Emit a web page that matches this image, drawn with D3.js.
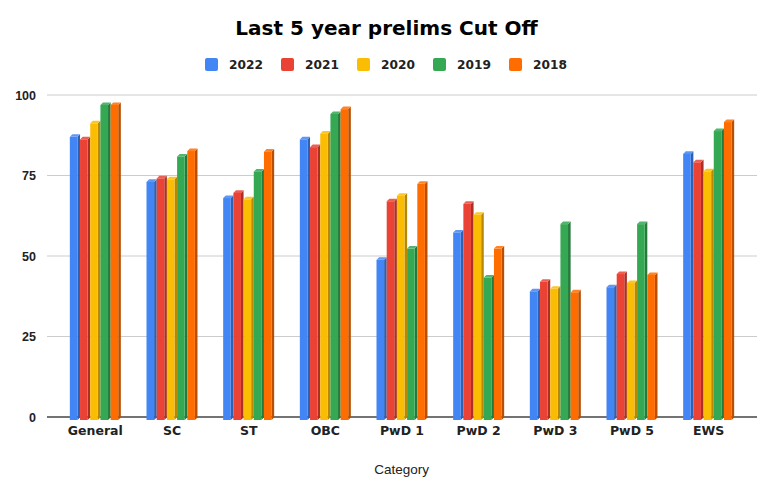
<!DOCTYPE html>
<html>
<head>
<meta charset="utf-8">
<script src="https://cdn.jsdelivr.net/npm/d3@7"></script>
<style>
  html, body { margin: 0; padding: 0; background: #fff; }
  svg { display: block; }
</style>
</head>
<body>
<svg id="chart" width="777" height="487"></svg>
<script>
const categories = ["General", "SC", "ST", "OBC", "PwD 1", "PwD 2", "PwD 3", "PwD 5", "EWS"];
const seriesNames = ["2022", "2021", "2020", "2019", "2018"];
const seriesColors = ["#4285F4", "#EA4335", "#FBBC04", "#34A853", "#FF6D01"];
const values2022 = [87.0, 73.0, 68.0, 86.2, 48.8, 57.3, 39.0, 40.3, 81.7];
const values2021 = [86.2, 74.1, 69.6, 83.8, 67.0, 66.2, 42.0, 44.4, 79.1];
const values2020 = [91.2, 73.8, 67.6, 88.0, 68.7, 62.8, 39.8, 41.6, 76.3];
const values2019 = [96.9, 80.9, 76.2, 94.1, 52.3, 43.3, 59.9, 59.9, 88.8];
const values2018 = [96.9, 82.6, 82.4, 95.6, 72.4, 52.3, 38.7, 44.1, 91.6];
const yTicks = [0, 25, 50, 75, 100];
const seriesValues = [values2022, values2021, values2020, values2019, values2018];

const svg = d3.select("#chart");

// Title
svg.append("text")
  .attr("x", 386.5).attr("y", 35)
  .attr("text-anchor", "middle")
  .attr("font-family", "DejaVu Sans")
  .attr("font-weight", "bold")
  .attr("font-size", 20)
  .attr("fill", "#000")
  .text("Last 5 year prelims Cut Off");

// Legend
const legendX = d3.scaleBand().domain(seriesNames).range([205, 585]);
const lg = svg.append("g");
seriesNames.forEach((s, i) => {
  const gx = legendX(s);
  lg.append("rect")
    .attr("x", gx).attr("y", 58)
    .attr("width", 13).attr("height", 13)
    .attr("rx", 2)
    .attr("fill", seriesColors[i]);
  lg.append("text")
    .attr("x", gx + 24).attr("y", 69)
    .attr("font-family", "DejaVu Sans")
    .attr("font-weight", "bold")
    .attr("font-size", 12.2)
    .attr("fill", "#222")
    .text(s);
});

// Scales
const x0 = d3.scaleBand().domain(categories).range([57, 747]);
const groupW = 51;
const x1 = d3.scaleBand().domain(seriesNames).range([0, groupW]);
const y = d3.scaleLinear().domain([0, 100]).range([417, 95]);

// Gridlines
const grid = svg.append("g");
grid.selectAll("line")
  .data(yTicks.filter(t => t !== 0))
  .join("line")
  .attr("x1", 47).attr("x2", 757)
  .attr("y1", d => y(d)).attr("y2", d => y(d))
  .attr("stroke", "#cccccc").attr("stroke-width", 1);

// Y axis labels
const yAxis = d3.axisLeft(y).tickValues(yTicks).tickSize(0).tickPadding(0);
const ya = svg.append("g").attr("transform", "translate(36,0)").call(yAxis);
ya.select(".domain").remove();
ya.selectAll("text")
  .attr("font-family", "Liberation Sans, Arial, sans-serif")
  .attr("font-weight", "bold")
  .attr("font-size", 12.5)
  .attr("fill", "#222")
  .attr("dy", "0.35em");

// Baseline
svg.append("line")
  .attr("x1", 47).attr("x2", 757)
  .attr("y1", y(0)).attr("y2", y(0))
  .attr("stroke", "#444").attr("stroke-width", 1.3);

// Bars with 3D effect
const depth = 2.6;
const frontW = x1.bandwidth() - depth;
const bars = svg.append("g");
categories.forEach((cat, ci) => {
  const gx = x0(cat) + (x0.bandwidth() - groupW) / 2;
  seriesNames.forEach((s, si) => {
    const v = seriesValues[si][ci];
    const c = seriesColors[si];
    const bx = gx + x1(s);
    const top = y(v);
    const bottom = y(0) + 3;
    const side = d3.color(c).darker(0.9).formatHex();
    const cap = d3.interpolateRgb(c, "#ffffff")(0.15);
    bars.append("path")
      .attr("d", `M${bx + frontW},${top} L${bx + frontW + depth},${top - depth} L${bx + frontW + depth},${bottom - depth} L${bx + frontW},${bottom} Z`)
      .attr("fill", side);
    bars.append("path")
      .attr("d", `M${bx},${top} L${bx + depth},${top - depth} L${bx + frontW + depth},${top - depth} L${bx + frontW},${top} Z`)
      .attr("fill", cap);
    bars.append("rect")
      .attr("x", bx).attr("y", top)
      .attr("width", frontW).attr("height", bottom - top)
      .attr("fill", c);
  });
});

// Category labels
const xAxis = d3.axisBottom(x0).tickSize(0).tickPadding(0);
const xa = svg.append("g").attr("transform", "translate(0,426)").call(xAxis);
xa.select(".domain").remove();
xa.selectAll("text")
  .attr("font-family", "DejaVu Sans")
  .attr("font-weight", "bold")
  .attr("font-size", 12.5)
  .attr("fill", "#222")
  .attr("dy", "0.71em");

// X axis title
svg.append("text")
  .attr("x", 401.7).attr("y", 474)
  .attr("text-anchor", "middle")
  .attr("font-family", "Liberation Sans, Arial, sans-serif")
  .attr("font-size", 13.5)
  .attr("fill", "#222")
  .text("Category");
</script>
</body>
</html>
